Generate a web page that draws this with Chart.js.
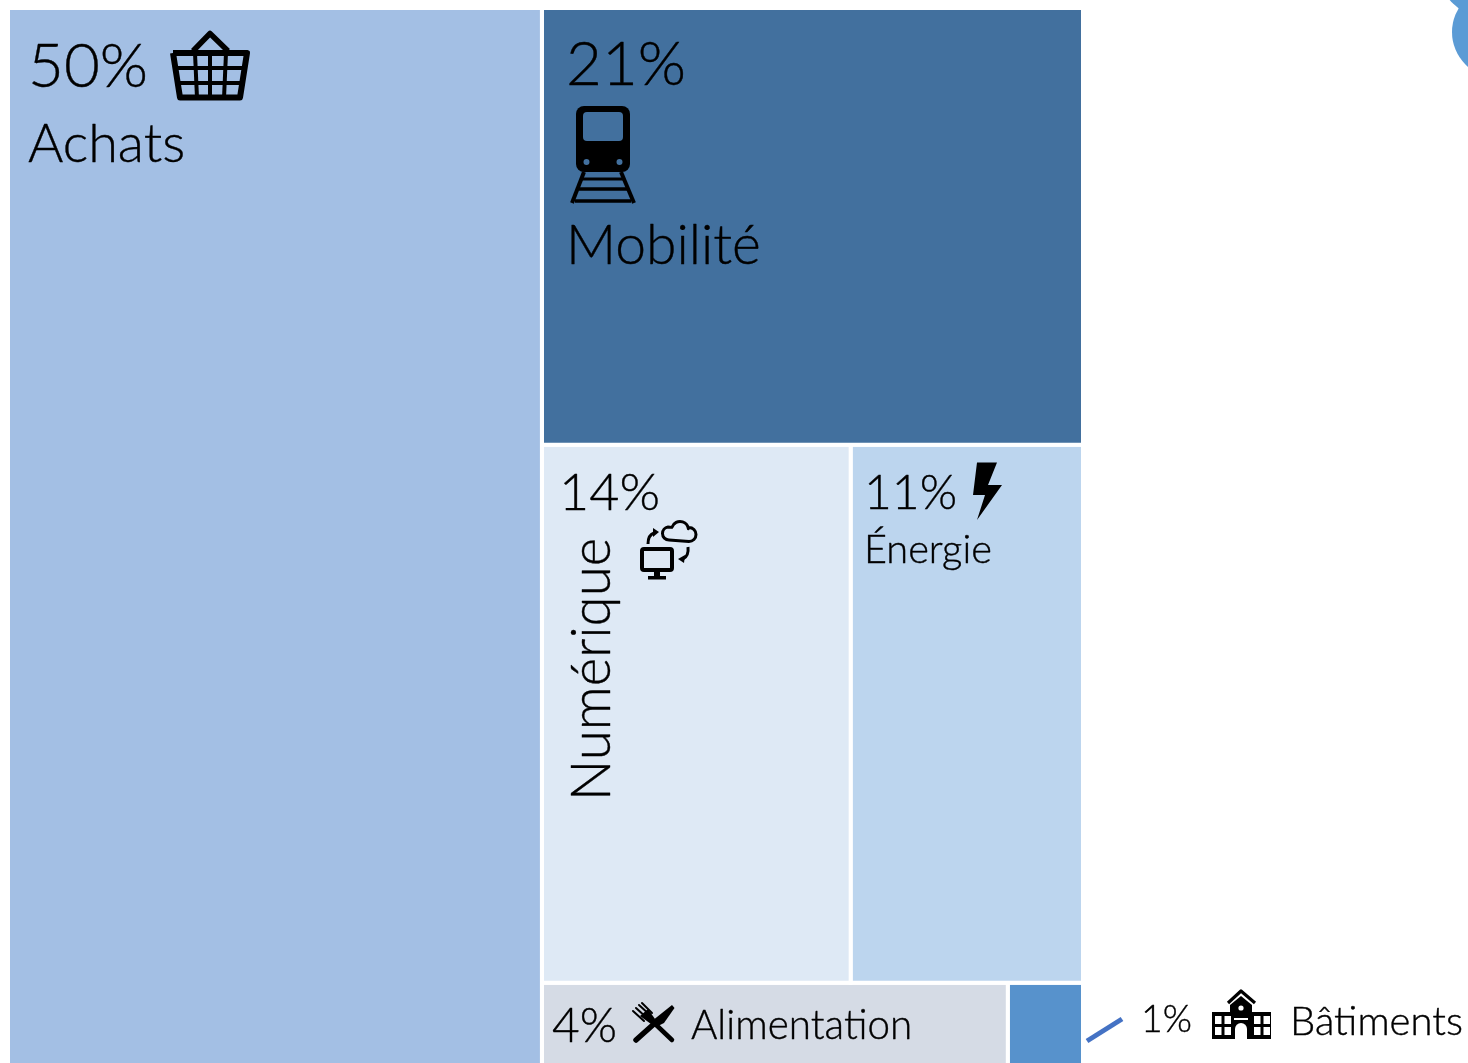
<!DOCTYPE html>
<html lang="fr">
<head>
<meta charset="utf-8">
<title>Répartition</title>
<style>html,body{margin:0;padding:0;background:#fff;overflow:hidden}canvas{display:block}</style>
<script src="https://cdn.jsdelivr.net/npm/chart.js@4/dist/chart.umd.js"></script>
</head>
<body>
<canvas id="c" width="1468" height="1063"></canvas>
<script>
// Data
const categories = ['Achats', 'Mobilité', 'Numérique', 'Énergie', 'Alimentation', 'Bâtiments'];
const shareLabels = ['50%', '21%', '14%', '11%', '4%', '1%'];
const shares = [49.6, 20.7, 14.55, 10.95, 3.5, 0.565]; // unrounded
const cellColors = ['#A3BFE4', '#42709E', '#DEE9F5', '#BCD5EE', '#D5DBE5', '#5792CC'];

// Treemap layout computed from the shares: [Achats] | [Mobilité / Numérique+Énergie / Alimentation+Bâtiments]
const right = shares[1] + shares[2] + shares[3] + shares[4] + shares[5];
const total = shares[0] + right;
const midRow = shares[2] + shares[3], lowRow = shares[4] + shares[5];
const xEdge = shares[0];
function rect(x0, x1, y0, y1) { return [{x:x0,y:y0},{x:x1,y:y0},{x:x1,y:y1},{x:x0,y:y1},{x:x0,y:y0}]; }
const yA = shares[1], yB = yA + midRow, yC = yB + lowRow;
const cells = [
  rect(0, xEdge, 0, yC),
  rect(xEdge, total, 0, yA),
  rect(xEdge, xEdge + right * shares[2] / midRow, yA, yB),
  rect(xEdge + right * shares[2] / midRow, total, yA, yB),
  rect(xEdge, xEdge + right * shares[4] / lowRow, yB, yC),
  rect(xEdge + right * shares[4] / lowRow, total, yB, yC)
];

const FONT = 'Lato';
const WEIGHT = 300;
// text: string, x, baseline y, target width, optional rotation
const texts = [
  [shareLabels[0], 28, 87, 120], [categories[0], 28, 162, 157],
  [shareLabels[1], 566, 85, 120], [categories[1], 566, 264, 195],
  [shareLabels[2], 559, 510, 101], [categories[2], 610, 801, 263, true],
  [shareLabels[3], 864, 509, 93], [categories[3], 864, 563, 128],
  [shareLabels[4], 552, 1042, 65], [categories[4], 691, 1039, 221],
  [shareLabels[5], 1141, 1032, 51], [categories[5], 1290, 1035, 173]
];

function drawText(ctx, t) {
  ctx.save();
  ctx.fillStyle = '#000';
  ctx.strokeStyle = '#000';
  ctx.lineWidth = 0.4;
  ctx.lineJoin = 'round';
  ctx.textBaseline = 'alphabetic';
  ctx.textAlign = 'left';
  ctx.font = WEIGHT + ' 100px ' + FONT;
  const px = 100 * t[3] / ctx.measureText(t[0]).width;
  ctx.font = WEIGHT + ' ' + px.toFixed(1) + 'px ' + FONT;
  ctx.translate(t[1], t[2]);
  if (t[4]) ctx.rotate(-Math.PI / 2);
  ctx.fillText(t[0], 0, 0);
  ctx.strokeText(t[0], 0, 0);
  ctx.restore();
}
function line(ctx, pts, w, cap) {
  ctx.lineWidth = w; ctx.lineCap = cap || 'butt'; ctx.lineJoin = 'round';
  ctx.beginPath();
  pts.forEach((p, i) => i ? ctx.lineTo(p[0], p[1]) : ctx.moveTo(p[0], p[1]));
  ctx.stroke();
}
function poly(ctx, pts) {
  ctx.beginPath();
  pts.forEach((p, i) => i ? ctx.lineTo(p[0], p[1]) : ctx.moveTo(p[0], p[1]));
  ctx.closePath(); ctx.fill();
}
function basket(ctx) {
  line(ctx, [[193,51],[210,33.5],[228,51]], 5.5);
  line(ctx, [[173,53],[180,97.5],[240,97.5],[247,53],[173,53]], 6);
  [[195,197],[210,210],[226,224]].forEach(p => line(ctx, [[p[0],53],[p[1],98]], 4));
  line(ctx, [[175,68],[245,68]], 4);
  line(ctx, [[177,83],[243,83]], 4);
}
function train(ctx, bg) {
  ctx.beginPath(); ctx.roundRect(576, 106, 54, 66, 8); ctx.fill();
  ctx.fillStyle = bg;
  ctx.beginPath(); ctx.roundRect(583, 112, 40, 29, 4); ctx.fill();
  ctx.beginPath(); ctx.arc(586.5, 162, 3, 0, 7); ctx.arc(619.5, 162, 3, 0, 7); ctx.fill();
  ctx.fillStyle = '#000';
  line(ctx, [[584,172],[572,203]], 4);
  line(ctx, [[621,172],[634,203]], 4);
  line(ctx, [[581,179],[625,179]], 3);
  line(ctx, [[579,189],[627,189]], 3.5);
  line(ctx, [[575,201],[631,201]], 3.5);
}
function bolt(ctx) {
  poly(ctx, [[977,462.5],[997,462.5],[988,485],[1002,485],[977,520],[985,495],[973,495]]);
}
function cloudPc(ctx) {
  ctx.lineWidth = 4; ctx.lineJoin = 'round';
  ctx.beginPath(); ctx.roundRect(642, 549, 30, 21, 2); ctx.stroke();
  ctx.fillRect(654, 571, 6, 5);
  ctx.fillRect(648, 576, 18, 3.5);
  ctx.lineWidth = 3;
  ctx.beginPath();
  ctx.moveTo(669, 540);
  ctx.arc(669, 533.5, 6.5, Math.PI / 2, Math.PI * 1.45);
  ctx.arc(680, 530, 8.5, Math.PI * 1.1, Math.PI * 1.95);
  ctx.arc(689, 534.5, 7, Math.PI * 1.5, Math.PI * 0.5);
  ctx.closePath(); ctx.stroke();
  ctx.lineWidth = 3;
  ctx.beginPath(); ctx.moveTo(648, 544); ctx.quadraticCurveTo(648, 535, 654, 533); ctx.stroke();
  poly(ctx, [[653,528],[659,532],[653,537]]);
  ctx.beginPath(); ctx.moveTo(688, 547); ctx.quadraticCurveTo(689, 556, 683, 559); ctx.stroke();
  poly(ctx, [[678,559],[685,555],[684,563]]);
}
function cutlery(ctx) {
  line(ctx, [[636,1040],[655,1023]], 5.5, 'round');
  poly(ctx, [[652,1021],[672,1005],[674.5,1008],[664,1023],[656,1027]]);
  line(ctx, [[651,1020],[672,1040]], 4.5, 'round');
  [[633,1011,644,1021],[636,1008,647,1018],[639,1005,650,1015],[642,1003,652,1013]].forEach(a => line(ctx, [[a[0],a[1]],[a[2],a[3]]], 2, 'round'));
  poly(ctx, [[640,1016],[648,1009],[655,1019],[651,1024]]);
}
function school(ctx) {
  line(ctx, [[1228,1003],[1241,991],[1255,1003]], 3.2);
  poly(ctx, [[1230,1012],[1230,1005],[1241,996],[1252,1005],[1252,1012]]);
  ctx.fillRect(1212, 1012, 59, 27);
  ctx.fillStyle = '#fff';
  ctx.beginPath(); ctx.arc(1241, 1008, 2.6, 0, 7); ctx.fill();
  ctx.fillRect(1234, 1018, 14, 2);
  [1215, 1224.5, 1254, 1263.5].forEach(x => { [1016, 1027].forEach(y => ctx.fillRect(x, y, 6.5, 8)); });
  ctx.beginPath(); ctx.moveTo(1235, 1039); ctx.lineTo(1235, 1029); ctx.arc(1241, 1029, 6, Math.PI, 0); ctx.lineTo(1247, 1039); ctx.closePath(); ctx.fill();
  ctx.fillStyle = '#000';
}
const decor = {
  id: 'decor',
  afterDraw(chart) {
    const ctx = chart.ctx;
    ctx.save();
    // partial shapes at the top right corner
    ctx.fillStyle = '#5B9BD5';
    ctx.beginPath(); ctx.arc(1498, 32, 46, 0, 7); ctx.fill();
    ctx.beginPath(); ctx.arc(1498, -42, 64, 0, 7); ctx.fill();
    // leader for the smallest cell
    ctx.strokeStyle = '#4472C4';
    line(ctx, [[1087,1041],[1122,1019]], 5);
    ctx.fillStyle = '#000'; ctx.strokeStyle = '#000';
    basket(ctx); train(ctx, cellColors[1]); bolt(ctx); cloudPc(ctx); cutlery(ctx); school(ctx);
    ctx.restore();
    texts.forEach(t => drawText(ctx, t));
  }
};
new Chart(document.getElementById('c'), {
  type: 'scatter',
  data: {
    datasets: cells.map((pts, i) => ({
      label: categories[i],
      data: pts,
      showLine: true,
      tension: 0,
      pointRadius: 0,
      fill: 'shape',
      backgroundColor: cellColors[i],
      borderColor: '#fff',
      borderWidth: 4,
      borderJoinStyle: 'miter',
      clip: 0
    }))
  },
  plugins: [decor],
  options: {
    responsive: false,
    animation: false,
    layout: { padding: { left: 8, top: 8, right: 385, bottom: 0 } },
    plugins: { legend: { display: false }, tooltip: { enabled: false }, title: { display: false } },
    scales: {
      x: { type: 'linear', display: false, min: 0, max: total },
      y: { type: 'linear', display: false, reverse: true, min: 0, max: 50 }
    }
  }
});
</script>
</body>
</html>
